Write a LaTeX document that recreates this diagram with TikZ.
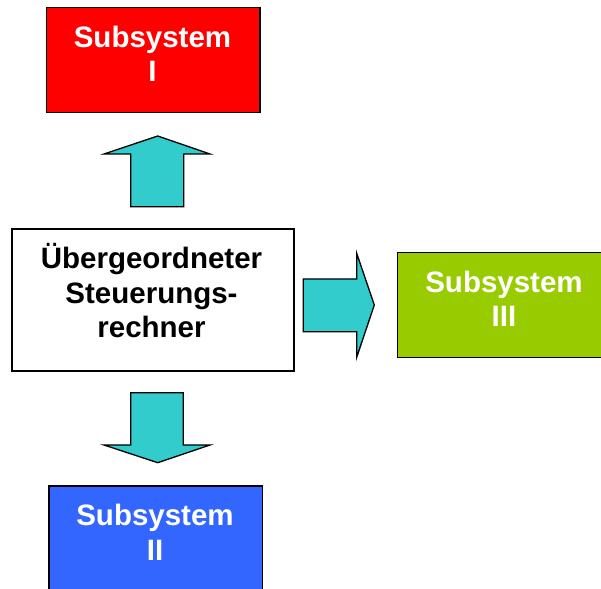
\documentclass[tikz,border=0pt]{standalone}
\usepackage{fontspec}
\setmainfont{Liberation Sans}
\begin{document}
\begin{tikzpicture}[x=1pt,y=1pt,
  boxst/.style={draw=black, line width=1.5pt, rectangle, inner sep=0pt, anchor=south west},
  arrowst/.style={draw=black, line width=1.3pt, fill=arrowcol, line join=miter},
  lbl/.style={font=\bfseries\fontsize{29.5}{34.5}\selectfont, align=center, inner sep=0pt, anchor=base}]
\definecolor{arrowcol}{HTML}{33CCCC}
\definecolor{redcol}{HTML}{FF0000}
\definecolor{bluecol}{HTML}{3366FF}
\definecolor{greencol}{HTML}{99CC00}
\useasboundingbox (0,0) rectangle (601,588);
\clip (0,0) rectangle (601,588);
\fill[white] (0,0) rectangle (601,588);
% boxes
\node[boxst, fill=redcol, minimum width=213.6pt, minimum height=105pt] (s1) at (45.7,474.7) {};
\node[boxst, fill=white, minimum width=282.3pt, minimum height=141.7pt] (main) at (11,216.3) {};
\node[boxst, fill=greencol, minimum width=214.3pt, minimum height=105pt] (s3) at (396.7,229.7) {};
\node[boxst, fill=bluecol, minimum width=213.4pt, minimum height=121.3pt] (s2) at (48.3,-20) {};
% labels (anchor = baseline of last line)
\node[lbl, text=white] (t1) at (152.5,506.3) {Subsystem\\I};
\node[lbl, text=black] (tm) at (151.5,250) {Übergeordneter\\Steuerungs-\\rechner};
\node[lbl, text=white] (t3) at (504,261.3) {Subsystem\\III};
\node[lbl, text=white] (t2) at (155,28) {Subsystem\\II};
% block arrows
\draw[arrowst] (130.7,381.3) -- (130.7,434) -- (104,434) -- (157.7,452) -- (210,434) -- (183.7,434) -- (183.7,381.3) -- cycle;
\draw[arrowst] (303.3,256.3) -- (356.7,256.3) -- (356.7,230.7) -- (374.3,283) -- (356.7,334.7) -- (356.7,309) -- (303.3,309) -- cycle;
\draw[arrowst] (130.7,195.3) -- (130.7,143) -- (104,143) -- (157.7,125.3) -- (210,143) -- (183.3,143) -- (183.3,195.3) -- cycle;
\end{tikzpicture}
\end{document}
